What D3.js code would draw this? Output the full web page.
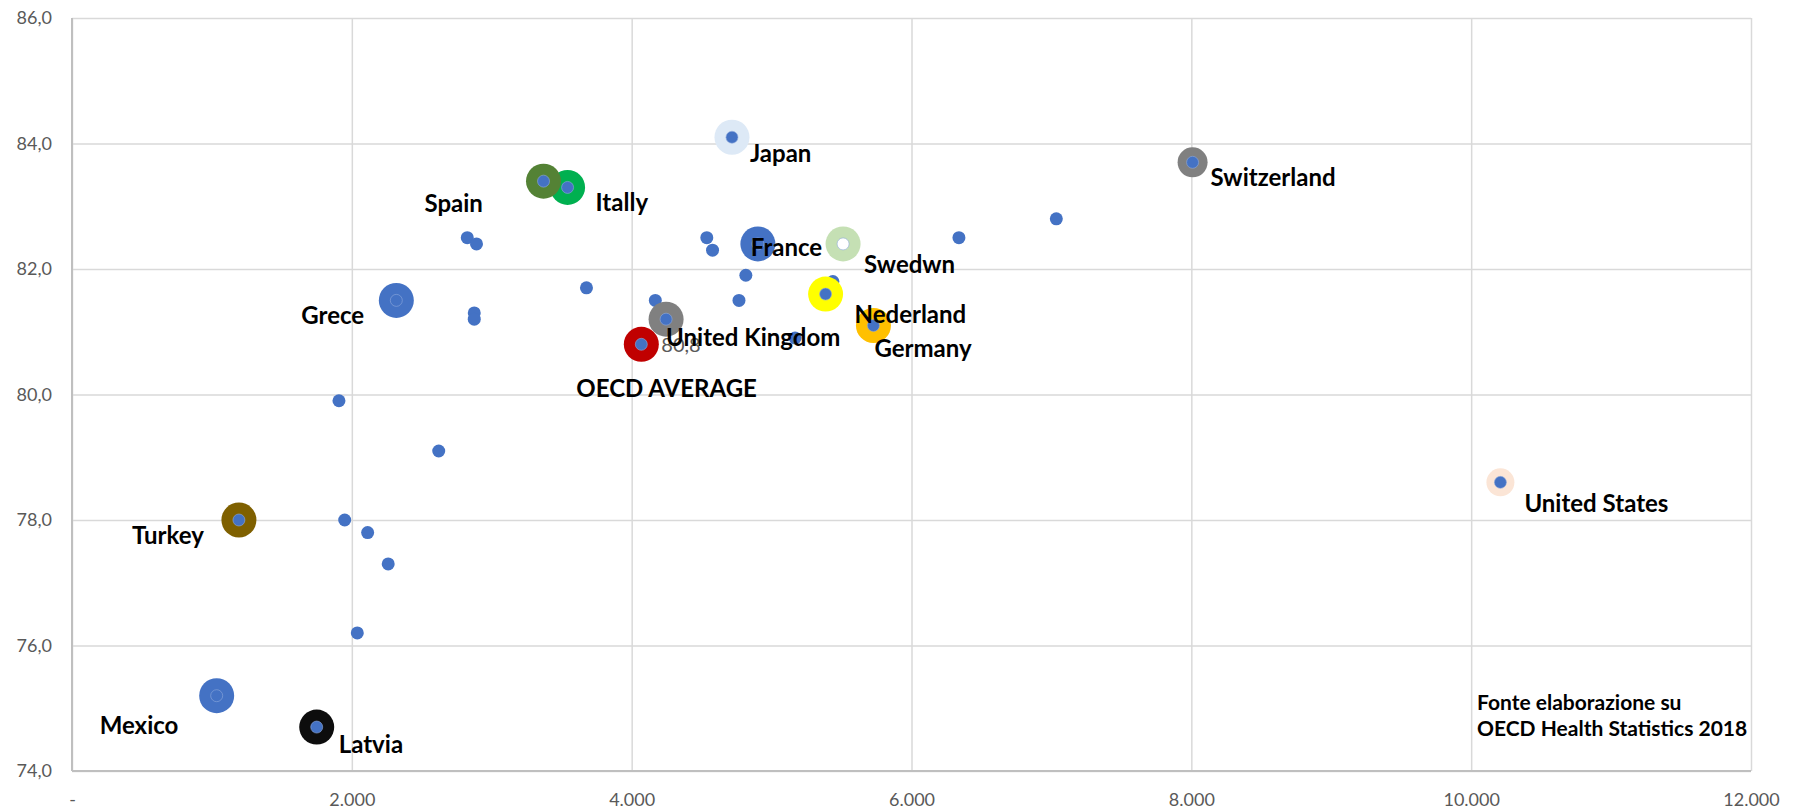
<!DOCTYPE html>
<html><head><meta charset="utf-8">
<script src="https://cdn.jsdelivr.net/npm/d3@7"></script>
<style>
html,body{margin:0;padding:0;background:#fff;}
svg{display:block;font-family:Lato,"Open Sans",sans-serif;}
</style></head>
<body>
<svg id="chart" width="1798" height="811"></svg>
<script>
// ---- DATA ----
// all other OECD countries (plain blue dots): health spending per capita, life expectancy
const otherX = [1908, 2621, 1949, 2113, 2260, 2039, 2825, 2891, 2875, 2875, 3677, 4169, 4537, 4578, 4816, 4767, 5168, 5438, 6339, 7035];
const otherY = [79.9, 79.1, 78.0, 77.8, 77.3, 76.2, 82.5, 82.4, 81.3, 81.2, 81.7, 81.5, 82.5, 82.3, 81.9, 81.5, 80.9, 81.8, 82.5, 82.8];
// highlighted countries
const hlNames = ["Japan", "Itally", "Spain", "France", "Swedwn", "Nederland", "Germany", "United Kingdom", "OECD AVERAGE", "Grece", "Turkey", "Mexico", "Latvia", "Switzerland", "United States"];
const hlX = [4717, 3542, 3370, 4902, 5511, 5386, 5728, 4246, 4069, 2318, 1193, 1034, 1749, 8009, 10209];
const hlY = [84.1, 83.3, 83.4, 82.4, 82.4, 81.6, 81.1, 81.2, 80.8, 81.5, 78.0, 75.2, 74.7, 83.7, 78.6];
const xTicks = [0, 2000, 4000, 6000, 8000, 10000, 12000];
const yTicks = [74, 76, 78, 80, 82, 84, 86];
const sourceLines = ["Fonte elaborazione su", "OECD Health Statistics 2018"];
const oecdValueLabel = "80,8";

// ---- STYLE / LAYOUT ----
const hlColor = {"Japan":"#dde9f6","Itally":"#00b050","Spain":"#548235","France":"#4472c4","Swedwn":"#c5e0b4",
  "Nederland":"#ffff00","Germany":"#ffc000","United Kingdom":"#808080","OECD AVERAGE":"#c00000","Grece":"#4472c4",
  "Turkey":"#7f6000","Mexico":"#4472c4","Latvia":"#0d0d0d","Switzerland":"#808080","United States":"#fbe5d6"};
const hlRadius = {"Switzerland":15,"United States":14};
const innerFill = {"Swedwn":"#ffffff"};
// label offsets (dx, dy) from the point in pixels
const labelOff = {"Japan":[18,25],"Itally":[28,24],"Spain":[-119,31],"France":[-7,12],"Swedwn":[21,29],
  "Nederland":[29,29],"Germany":[1,32],"United Kingdom":[0,27],"OECD AVERAGE":[-65,53],"Grece":[-95,24],
  "Turkey":[-107,24],"Mexico":[-117,38],"Latvia":[22,26],"Switzerland":[18,24],"United States":[24,30]};
const drawOrder = ["Itally","Spain","Japan","France","Swedwn","Nederland","Germany","United Kingdom","OECD AVERAGE","Grece","Turkey","Mexico","Latvia","Switzerland","United States"];

const W = 1798, H = 811;
const m = {left:72, right:W-1751, top:18, bottom:H-771};
const svg = d3.select("#chart");
const x = d3.scaleLinear().domain([0,12000]).range([m.left, W-m.right]);
const y = d3.scaleLinear().domain([74,86]).range([H-m.bottom, m.top]);

const fmtX = d => d === 0 ? "-" : d3.format(",")(d).replace(/,/g, ".");
const fmtY = d => d3.format(".1f")(d).replace(".", ",");

// gridlines
const gx = svg.append("g").attr("transform", `translate(0,${H-m.bottom})`)
  .call(d3.axisBottom(x).tickValues(xTicks).tickSize(-(H-m.top-m.bottom)).tickFormat(fmtX).tickPadding(22));
const gy = svg.append("g").attr("transform", `translate(${m.left},0)`)
  .call(d3.axisLeft(y).tickValues(yTicks).tickSize(-(W-m.left-m.right)).tickFormat(fmtY).tickPadding(20));
[gx, gy].forEach(g => {
  g.select(".domain").remove();
  g.selectAll(".tick line").attr("stroke", "#d9d9d9").attr("stroke-width", 1.5);
  g.selectAll(".tick text").attr("fill", "#595959").attr("font-size", 18).attr("font-family", "Lato, sans-serif");
});
// axis lines
svg.append("line").attr("x1", x(0)).attr("x2", x(12000)).attr("y1", y(74)).attr("y2", y(74)).attr("stroke", "#bfbfbf").attr("stroke-width", 2);
svg.append("line").attr("x1", x(0)).attr("x2", x(0)).attr("y1", y(74)).attr("y2", y(86)).attr("stroke", "#bfbfbf").attr("stroke-width", 2);

// plain dots
svg.append("g").selectAll("circle").data(otherX.map((v,i)=>({x:v,y:otherY[i]}))).join("circle")
  .attr("cx", d => x(d.x)).attr("cy", d => y(d.y)).attr("r", 6.5).attr("fill", "#4472c4");

// highlighted
const hl = hlNames.map((n,i)=>({name:n, x:hlX[i], y:hlY[i]}));
const byName = Object.fromEntries(hl.map(d=>[d.name,d]));
const gh = svg.append("g");
drawOrder.forEach(n => {
  const d = byName[n];
  gh.append("circle").attr("cx", x(d.x)).attr("cy", y(d.y)).attr("r", hlRadius[n] || 17.5).attr("fill", hlColor[n]);
  gh.append("circle").attr("cx", x(d.x)).attr("cy", y(d.y)).attr("r", 6)
    .attr("fill", innerFill[n] || "#4472c4").attr("stroke", "#8eaadb").attr("stroke-width", 0.6);
});

// OECD value label
const oecd = byName["OECD AVERAGE"];
svg.append("text").attr("x", x(oecd.x)+20).attr("y", y(oecd.y)+8).attr("fill", "#595959")
  .attr("font-size", 20).text(oecdValueLabel);

// country labels
svg.append("g").selectAll("text").data(hl).join("text")
  .attr("x", d => x(d.x) + labelOff[d.name][0]).attr("y", d => y(d.y) + labelOff[d.name][1])
  .attr("font-size", 24).attr("font-weight", 700).attr("fill", "#000").text(d => d.name);

// source note
svg.append("g").selectAll("text").data(sourceLines).join("text")
  .attr("x", 1477).attr("y", (d,i) => 710 + i*26.4)
  .attr("font-size", 21).attr("font-weight", 700).attr("fill", "#000").text(d => d);
</script>
</body></html>
